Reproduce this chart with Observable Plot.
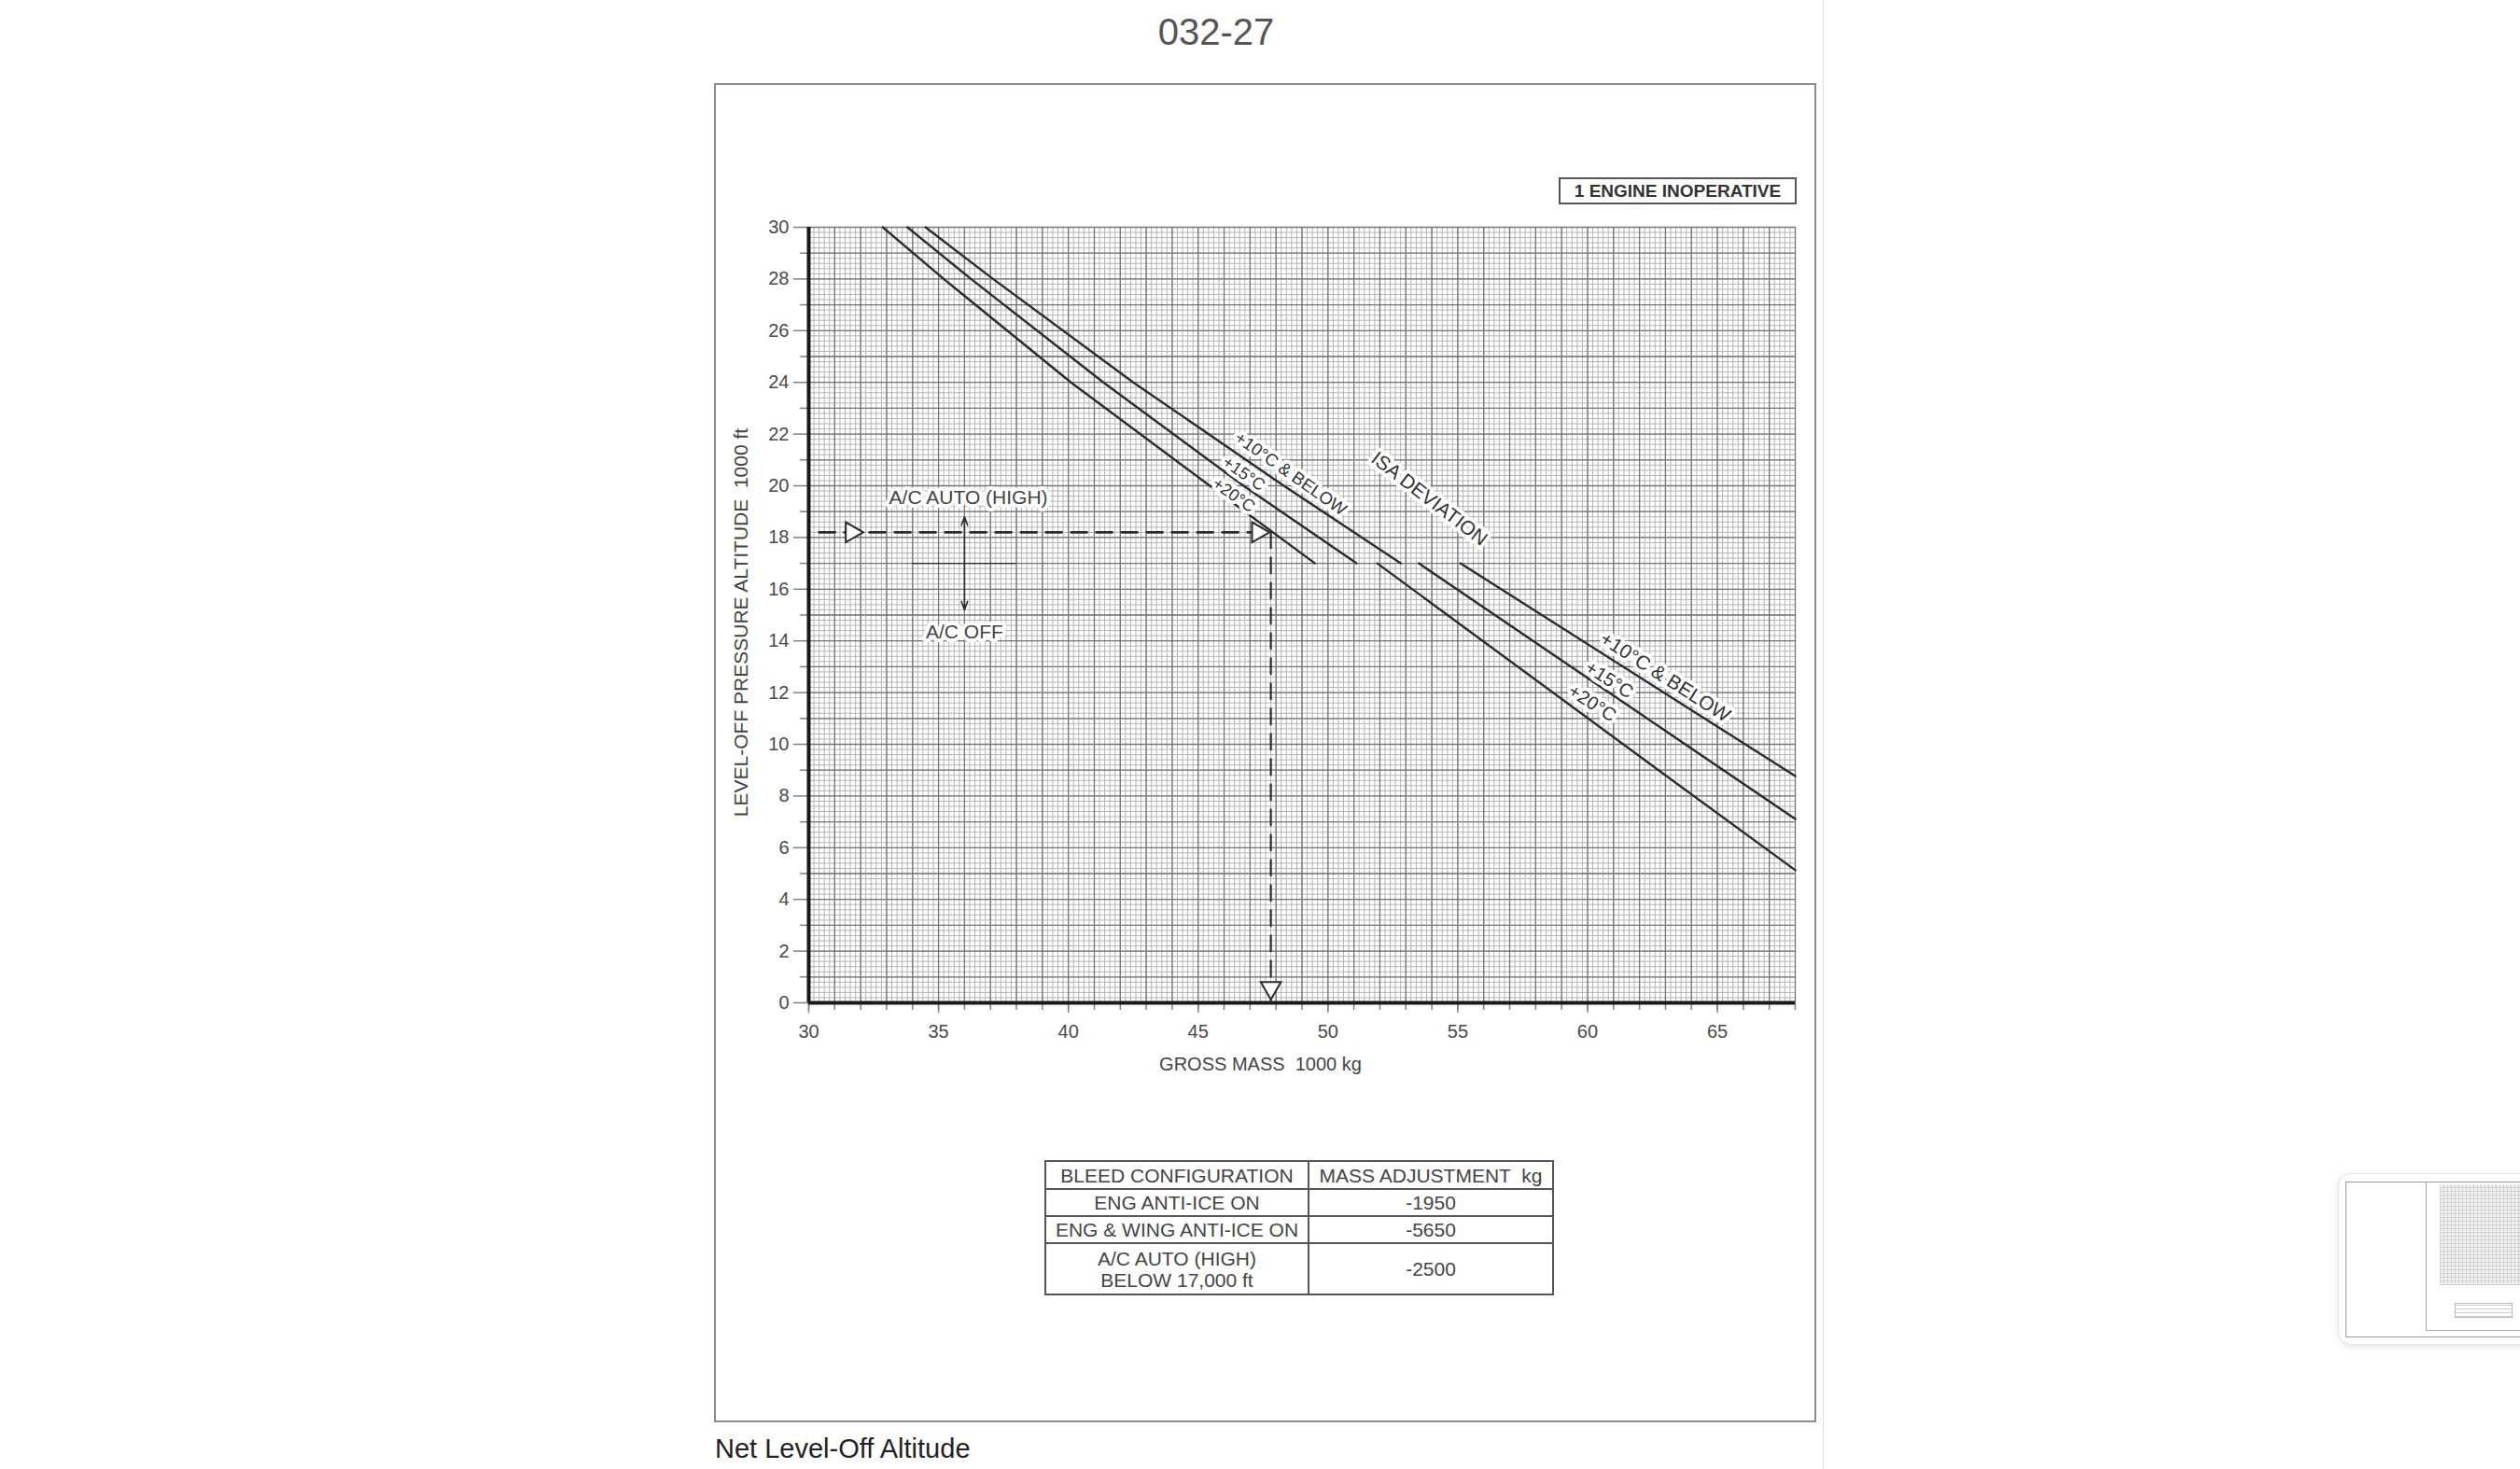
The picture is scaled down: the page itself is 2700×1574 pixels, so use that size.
<!DOCTYPE html>
<html>
<head>
<meta charset="utf-8">
<script src="https://cdn.jsdelivr.net/npm/d3@7"></script>
<script src="https://cdn.jsdelivr.net/npm/@observablehq/plot@0.6"></script>
<style>
  html, body { margin: 0; padding: 0; background: #fff; }
  body { width: 2700px; height: 1574px; position: relative; overflow: hidden;
         font-family: "Liberation Sans", Arial, sans-serif; }
  #title { position: absolute; left: 1103px; width: 400px; top: 10px; text-align: center;
           font-size: 40px; color: #555; line-height: 48px; }
  #frame { position: absolute; left: 765px; top: 89px; width: 1181px; height: 1435px;
           border: 2px solid #8c8c8c; box-sizing: border-box; }
  #pageedge { position: absolute; left: 1953px; top: 0; width: 1px; height: 1574px; background: #e2e2e2; }
  #chart { position: absolute; left: 770px; top: 180px; }
  #engine { position: absolute; left: 1670px; top: 190px; width: 255px; height: 29px; box-sizing: border-box;
            border: 2px solid #555; font-weight: bold; font-size: 19px; color: #333; text-align: center;
            line-height: 25px; white-space: nowrap; background: #fff; }
  #bleed { position: absolute; left: 1119px; top: 1243px; border-collapse: collapse; table-layout: fixed;
           width: 544px; font-size: 21px; color: #444; }
  #bleed td { border: 2px solid #555; text-align: center; padding: 0; line-height: 23px; white-space: pre; box-sizing: border-box; }
  #caption { position: absolute; left: 766px; top: 1535px; font-size: 29px; color: #222; line-height: 34px; }
  #thumb { position: absolute; left: 2505px; top: 1257px; width: 240px; height: 182px; border-radius: 14px;
           background: #fff; border: 1px solid #e4e4e4; box-shadow: 0 2px 10px rgba(0,0,0,0.10); }
  #thumbpage { position: absolute; left: 7px; top: 8px; width: 230px; height: 167px; border: 1px solid #9a9a9a; box-sizing: border-box; }
  #thumbchart { position: absolute; left: 85px; top: -1px; width: 150px; height: 159px; border-left: 1px solid #aaa; border-bottom: 1px solid #aaa; }
  #thumbgrid { position: absolute; left: 14px; top: 3px; width: 100px; height: 108px;
               background-color: #f2f2f2;
               background-image: repeating-linear-gradient(0deg, #cfcfcf 0 1px, transparent 1px 4px),
                                 repeating-linear-gradient(90deg, #cfcfcf 0 1px, transparent 1px 4px); }
  #thumbtable { position: absolute; left: 30px; top: 130px; width: 60px; height: 14px;
                border: 1px solid #bbb; background: repeating-linear-gradient(0deg, #ccc 0 1px, transparent 1px 4px); }
</style>
</head>
<body>
<div id="title">032-27</div>
<div id="pageedge"></div>
<div id="frame"></div>
<div id="chart"></div>
<div id="engine">1 ENGINE INOPERATIVE</div>
<table id="bleed"></table>
<div id="caption">Net Level-Off Altitude</div>
<div id="thumb"><div id="thumbpage"><div id="thumbchart"><div id="thumbgrid"></div><div id="thumbtable"></div></div></div></div>
<script>
// ---------- data ----------
const xDomain = [30, 68];                 // gross mass, 1000 kg
const yDomain = [0, 30];                  // level-off pressure altitude, 1000 ft
const massTicks = [30, 35, 40, 45, 50, 55, 60, 65];
const altTicks = [0, 2, 4, 6, 8, 10, 12, 14, 16, 18, 20, 22, 24, 26, 28, 30];
const massUnits = d3.range(30, 69);
const altUnits = d3.range(0, 31);
const altOddUnits = d3.range(1, 30, 2);
const massFine = d3.range(300, 681, 2).map(d => d / 10);
const altFine = d3.range(0, 301, 2).map(d => d / 10);

const isaDeviation = ["+20°C", "+15°C", "+10°C & BELOW"];
// upper branch (A/C AUTO HIGH, above 17,000 ft)
const upperAlt = [30, 28, 24, 20, 17];
const upperMass20 = [32.85, 35.2, 40.1, 45.45, 49.5];
const upperMass15 = [33.8, 36.25, 41.35, 46.75, 51.1];
const upperMass10 = [34.5, 37.1, 42.5, 48.3, 52.8];
// lower branch (below 17,000 ft)
const lowerMass20 = [51.9, 62.5, 68];
const lowerAlt20 = [17, 9.17, 5.13];
const lowerMass15 = [53.5, 68];
const lowerAlt15 = [17, 7.11];
const lowerMass10 = [55.1, 68];
const lowerAlt10 = [17, 8.77];

// worked example
const exampleAlt = 18.2;
const exampleMass = 47.8;
const exampleStartMass = 30.4;
const exampleArrowMass = [31.65, 47.3];
const exampleDownAlt = 0.58;

// A/C switch marker
const acMass = 36.0;
const acSplitAlt = 17;
const acArrowEnds = [18.8, 15.2];
const acBarMass = [34.0, 38.0];

// text annotations
const acLabels = ["A/C AUTO (HIGH)", "A/C OFF"];
const acLabelMass = [36.15, 36.0];
const acLabelAlt = [19.55, 14.33];

const curveLabelText = ["+10°C & BELOW", "+15°C", "+20°C", "ISA DEVIATION", "+10°C & BELOW", "+15°C", "+20°C"];
const curveLabelMass = [48.56, 46.76, 46.37, 53.9, 62.99, 60.83, 60.18];
const curveLabelAlt = [20.47, 20.47, 19.64, 19.5, 12.6, 12.49, 11.59];
const curveLabelAngle = [35, 35, 35, 37.5, 32.5, 32.5, 32.5];
const curveLabelSize = [18.5, 18, 18, 21, 21, 20, 20];

const xTitle = "GROSS MASS\u00a0\u00a01000 kg";
const xTitleMass = 47.4;
const yTitle = "LEVEL-OFF PRESSURE ALTITUDE\u00a0\u00a01000 ft";

// bleed table
const bleedConfig = ["BLEED CONFIGURATION", "ENG ANTI-ICE ON", "ENG & WING ANTI-ICE ON", "A/C AUTO (HIGH)\nBELOW 17,000 ft"];
const massAdjust = ["MASS ADJUSTMENT  kg", "-1950", "-5650", "-2500"];

// ---------- build rows ----------
const curves = [];
[[upperMass20, upperAlt], [upperMass15, upperAlt], [upperMass10, upperAlt]].forEach(([m, a], i) =>
  m.forEach((v, j) => curves.push({seg: "u" + i, isa: isaDeviation[i], mass: v, alt: a[j]})));
[[lowerMass20, lowerAlt20], [lowerMass15, lowerAlt15], [lowerMass10, lowerAlt10]].forEach(([m, a], i) =>
  m.forEach((v, j) => curves.push({seg: "l" + i, isa: isaDeviation[i], mass: v, alt: a[j]})));

const dashH = [{mass: exampleStartMass, alt: exampleAlt}, {mass: exampleMass, alt: exampleAlt}];
const dashV = [{mass: exampleMass, alt: exampleAlt}, {mass: exampleMass, alt: yDomain[0]}];
const triRight = exampleArrowMass.map(m => ({mass: m, alt: exampleAlt}));
const triDown = [{mass: exampleMass, alt: exampleDownAlt}];
const acArrows = acArrowEnds.map(a => ({x1: acMass, y1: acSplitAlt, x2: acMass, y2: a}));
const acBar = [{alt: acSplitAlt, x1: acBarMass[0], x2: acBarMass[1]}];
const acText = acLabels.map((t, i) => ({t, mass: acLabelMass[i], alt: acLabelAlt[i]}));
const curveText = curveLabelText.map((t, i) => ({t, mass: curveLabelMass[i], alt: curveLabelAlt[i],
  angle: curveLabelAngle[i], size: curveLabelSize[i]}));

const ink = "#2b2b2b";
const chart = Plot.plot({
  width: 1170, height: 1000,
  marginLeft: 96, marginRight: 17, marginTop: 63, marginBottom: 106,
  x: {domain: xDomain, label: null},
  y: {domain: yDomain, label: null},
  style: {fontFamily: '"Liberation Sans", Arial, sans-serif', color: "#4a4a4a", background: "transparent", overflow: "visible"},
  marks: [
    Plot.ruleX(massFine, {stroke: "#b4b4b4", strokeWidth: 1}),
    Plot.ruleY(altFine, {stroke: "#b4b4b4", strokeWidth: 1}),
    Plot.ruleX(massUnits, {stroke: "#767676", strokeWidth: 1.3}),
    Plot.ruleY(altUnits, {stroke: "#767676", strokeWidth: 1.3}),
    Plot.axisY({ticks: altTicks, tickSize: 16, tickPadding: 5, fontSize: 20, stroke: "#808080", strokeWidth: 1.5, label: null}),
    Plot.axisY({ticks: altOddUnits, tickSize: 9, tickFormat: () => "", stroke: "#808080", strokeWidth: 1.5, label: null}),
    Plot.axisX({ticks: massTicks, tickSize: 11, tickPadding: 12, fontSize: 20, stroke: "#808080", strokeWidth: 1.5, label: null}),
    Plot.axisX({ticks: massUnits, tickSize: 8, tickFormat: () => "", stroke: "#808080", strokeWidth: 1.5, label: null}),
    Plot.ruleX([xDomain[0]], {stroke: "#1a1a1a", strokeWidth: 4}),
    Plot.ruleY([yDomain[0]], {stroke: "#1a1a1a", strokeWidth: 4}),
    Plot.line(curves, {x: "mass", y: "alt", z: "seg", stroke: ink, strokeWidth: 2.4}),
    Plot.line(dashH, {x: "mass", y: "alt", stroke: ink, strokeWidth: 2.6, strokeDasharray: "17,10"}),
    Plot.line(dashV, {x: "mass", y: "alt", stroke: ink, strokeWidth: 2.2, strokeDasharray: "17,10"}),
    Plot.dot(triRight, {x: "mass", y: "alt", symbol: "triangle", r: 8, rotate: 90, fill: "white", stroke: ink, strokeWidth: 2}),
    Plot.dot(triDown, {x: "mass", y: "alt", symbol: "triangle", r: 8, rotate: 180, fill: "white", stroke: ink, strokeWidth: 2}),
    Plot.ruleY(acBar, {y: "alt", x1: "x1", x2: "x2", stroke: ink, strokeWidth: 1.3}),
    Plot.arrow(acArrows, {x1: "x1", y1: "y1", x2: "x2", y2: "y2", stroke: ink, strokeWidth: 1.6, headLength: 9, headAngle: 40}),
    Plot.text(acText, {x: "mass", y: "alt", text: "t", fontSize: 21, fill: "#444", stroke: "white", strokeWidth: 8, paintOrder: "stroke"}),
    Plot.text(curveText, {x: "mass", y: "alt", text: "t", rotate: d => d.angle, fontSize: d => d.size,
      fill: "#333", stroke: "white", strokeWidth: 8, paintOrder: "stroke"}),
    Plot.text([xTitle], {x: () => xTitleMass, text: d => d, frameAnchor: "bottom", dy: 72, fontSize: 20, fill: "#444"}),
    Plot.text([yTitle], {text: d => d, frameAnchor: "left", textAnchor: "middle", lineAnchor: "middle", dx: -72, dy: 8, rotate: -90, fontSize: 21, fill: "#444"})
  ]
});
document.getElementById("chart").appendChild(chart);

// table
const tbl = document.getElementById("bleed");
const colW = [282, 262];
const rowH = [30, 29, 29, 55];
bleedConfig.forEach((c, i) => {
  const tr = document.createElement("tr");
  tr.style.height = rowH[i] + "px";
  [c, massAdjust[i]].forEach((v, k) => {
    const td = document.createElement("td");
    td.textContent = v;
    td.style.width = colW[k] + "px";
    td.style.height = rowH[i] + "px";
    tr.appendChild(td);
  });
  tbl.appendChild(tr);
});
</script>
</body>
</html>
